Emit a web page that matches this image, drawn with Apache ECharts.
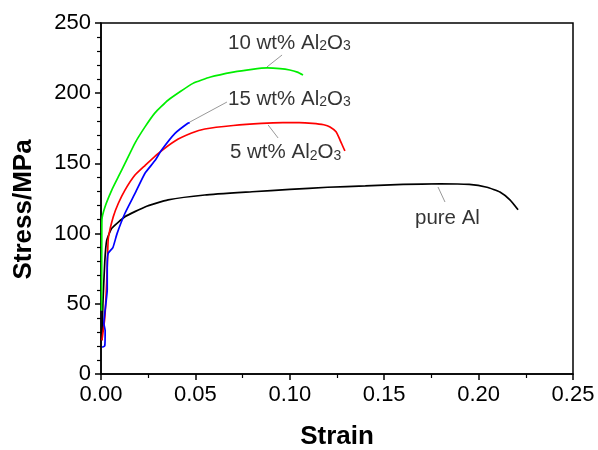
<!DOCTYPE html>
<html>
<head>
<meta charset="utf-8">
<script src="https://cdn.jsdelivr.net/npm/echarts@6/dist/echarts.min.js"></script>
<style>
	html, body { margin: 0; padding: 0; background: #fff; }
	#chart { width: 598px; height: 450px; }
</style>
</head>
<body>
<div id="chart"></div>
<script>
	// stress-strain curves, [strain, stress MPa]
	var pureAl = [
		[0.0005, 24], [0.001, 50], [0.002, 80], [0.003, 95], [0.0057, 103.8], [0.0127, 112],
		[0.0233, 119], [0.0355, 124], [0.055, 127.5], [0.08, 129.8], [0.1, 131.5], [0.12, 133],
		[0.14, 134], [0.16, 135], [0.18, 135.5], [0.195, 135], [0.2044, 133], [0.2113, 129.6],
		[0.2166, 124], [0.2209, 117]
	];
	var al5 = [
		[0.0005, 24], [0.002, 40], [0.003, 65], [0.0035, 85], [0.0039, 97], [0.0065, 112],
		[0.0092, 121.6], [0.0127, 131], [0.018, 141.7], [0.0233, 148.5], [0.0302, 157],
		[0.0392, 166], [0.048, 171.6], [0.055, 174.5], [0.07, 177], [0.085, 178.5],
		[0.0964, 179], [0.105, 179], [0.112, 178.5], [0.118, 177.5], [0.1213, 176], [0.1245, 172.5],
		[0.1265, 167], [0.1283, 161.5], [0.1292, 159]
	];
	var al10 = [
		[0.0003, 45], [0.0004, 90], [0.0005, 110], [0.0021, 119], [0.0057, 131], [0.0092, 140.5],
		[0.0127, 150], [0.018, 164.5], [0.0233, 176], [0.0286, 186], [0.0355, 195], [0.0487, 207],
		[0.058, 211.5], [0.07, 215], [0.08, 217], [0.088, 218], [0.0948, 217.5], [0.1, 216.5],
		[0.104, 215], [0.107, 213]
	];
	var al15 = [
		[0.0006, 19], [0.002, 20], [0.0022, 31], [0.0015, 36], [0.0033, 60], [0.0033, 76],
		[0.0038, 86], [0.0063, 90], [0.0085, 100], [0.0127, 114.5], [0.018, 128.6], [0.0233, 143],
		[0.0286, 152], [0.0321, 159.5], [0.0392, 171.4], [0.046, 178.6], [0.047, 179]
	];

	// annotations: anchor (left, text middle) and leader lines
	var labelText = ['10 wt% Al2O3', '15 wt% Al2O3', '5 wt% Al2O3', 'pure Al'];
	var labelPos = [[0.0673, 235.8], [0.0673, 195.9], [0.0683, 157.8], [0.1663, 111.1]];
	var leaders = [
		[[0.0879, 218.7], [0.0959, 227.2]],
		[[0.0471, 179.5], [0.0667, 193.7]],
		[[0.0885, 177.4], [0.0938, 168.1]],
		[[0.1785, 133.2], [0.1822, 122.5]]
	];

	var FONT = '"Liberation Sans", Arial, sans-serif';

	function fmtLabel(txt){
		// Al2O3 -> rich text with subscripts
		if(txt.indexOf('Al2O3') < 0) return '{a|' + txt + '}';
		var pre = txt.replace('Al2O3', '');
		return '{a|' + pre + 'Al}{s|2}{a|O}{s|3}';
	}

	var series = [];
	function curve(name, data, color){
		series.push({
			name: name, type: 'line', data: data, showSymbol: false, smooth: 0.15,
			lineStyle: { color: color, width: 1.7 }, z: 3
		});
	}
	curve('pure Al', pureAl, '#000000');
	curve('5 wt%', al5, '#ff0000');
	curve('10 wt%', al10, '#00ee00');
	curve('15 wt%', al15, '#0000ff');

	leaders.forEach(function(seg){
		series.push({
			type: 'line', data: seg, showSymbol: false, silent: true,
			lineStyle: { color: '#999999', width: 1 }, z: 2
		});
	});

	series.push({
		type: 'scatter', symbolSize: 0, silent: true,
		data: labelPos.map(function(p, i){ return { value: p, name: labelText[i] }; }),
		label: {
			show: true, position: 'inside', align: 'left', verticalAlign: 'middle',
			color: '#000', textBorderWidth: 0,
			formatter: function(p){ return fmtLabel(p.name); },
			rich: {
				a: { fontFamily: FONT, fontSize: 20.5, color: '#000', lineHeight: 21, verticalAlign: 'top', textBorderWidth: 0 },
				s: { fontFamily: FONT, fontSize: 14, color: '#000', lineHeight: 15, verticalAlign: 'bottom', padding: [12, 0, 0, 0], textBorderWidth: 0 }
			}
		}
	});

	var myChart = echarts.init(document.getElementById('chart'));
	var option = {
		animation: false,
		backgroundColor: '#fff',
		grid: {
			left: 101, right: 25, top: 23, bottom: 76, outerBoundsMode: 'none',
			show: true, borderColor: '#000', borderWidth: 1.5, backgroundColor: 'transparent'
		},
		xAxis: {
			type: 'value', min: 0, max: 0.25, interval: 0.05,
			name: 'Strain', nameLocation: 'middle', nameGap: 50,
			nameTextStyle: { fontFamily: FONT, fontSize: 26, fontWeight: 'bold', color: '#000' },
			axisLine: { onZero: false, lineStyle: { color: '#000', width: 1.5 } },
			axisTick: { length: 6, lineStyle: { color: '#000', width: 1.5 } },
			minorTick: { show: true, splitNumber: 2, length: 4, lineStyle: { color: '#000', width: 1.2 } },
			splitLine: { show: false },
			axisLabel: {
				margin: 10, fontFamily: FONT, fontSize: 22, color: '#000',
				formatter: function(v){ return v.toFixed(2); }
			}
		},
		yAxis: {
			type: 'value', min: 0, max: 250, interval: 50,
			axisLine: { onZero: false, lineStyle: { color: '#000', width: 1.5 } },
			axisTick: { length: 6, lineStyle: { color: '#000', width: 1.5 } },
			minorTick: { show: true, splitNumber: 5, length: 4, lineStyle: { color: '#000', width: 1.2 } },
			splitLine: { show: false },
			axisLabel: { margin: 10, fontFamily: FONT, fontSize: 22, color: '#000' }
		},
		graphic: [{
			type: 'text', x: 24, y: 209.5, rotation: Math.PI / 2,
			style: {
				text: 'Stress/MPa', fontFamily: FONT, fontSize: 26, fontWeight: 'bold',
				fill: '#000', align: 'center', verticalAlign: 'middle'
			}
		}],
		series: series
	};
	myChart.setOption(option);
</script>
</body>
</html>
